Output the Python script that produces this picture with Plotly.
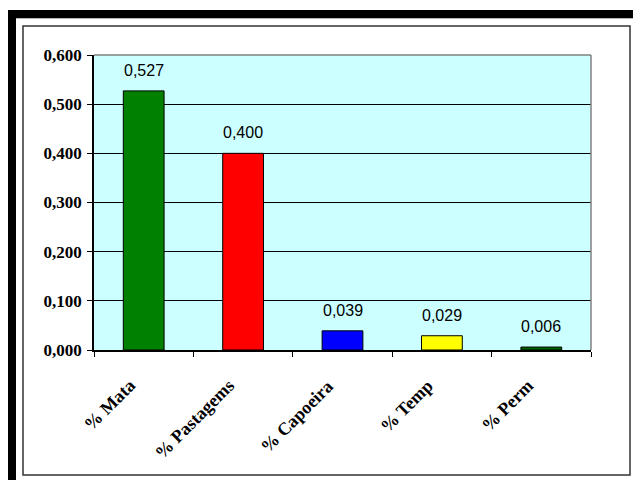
import plotly.graph_objects as go

categories = ["% Mata", "% Pastagems", "% Capoeira", "% Temp", "% Perm"]
values = [0.527, 0.400, 0.039, 0.029, 0.006]
bar_colors = ["#008000", "#FF0000", "#0000FF", "#FFFF00", "#006400"]
y_ticks = [0.0, 0.1, 0.2, 0.3, 0.4, 0.5, 0.6]
y_tick_labels = [f"{v:.3f}".replace(".", ",") for v in y_ticks]
value_labels = [f"{v:.3f}".replace(".", ",") for v in values]

W, H = 633, 480
L, R, T, B = 94, 591, 55, 350

fig = go.Figure()
fig.add_trace(go.Bar(
    x=categories, y=values,
    marker=dict(color=bar_colors, line=dict(color="black", width=1)),
    width=0.41, showlegend=False, hoverinfo="skip",
))

for c, v, t in zip(categories, values, value_labels):
    fig.add_annotation(x=c, y=v, text=t, showarrow=False, yanchor="bottom",
                       yshift=10, font=dict(family="Liberation Sans, Arial", size=16, color="black"))

# rotated category labels
for c in categories:
    fig.add_annotation(x=c, y=0, text=c, showarrow=False, textangle=-45,
                       xanchor="right", yanchor="top", xshift=-2, yshift=-23,
                       font=dict(family="Liberation Serif, Times New Roman", size=18,
                                 color="black", weight="bold"))

def px(x):
    return (x - L) / (R - L)

def py(y):
    return (B - y) / (B - T)

shapes = []
# outer thick black frame (top and left, clipped at right/bottom)
shapes.append(dict(type="line", xref="paper", yref="paper", x0=px(8), x1=px(700), y0=py(14), y1=py(14),
                   line=dict(color="black", width=8)))
shapes.append(dict(type="line", xref="paper", yref="paper", x0=px(12), x1=px(12), y0=py(10), y1=py(560),
                   line=dict(color="black", width=8)))
shapes.append(dict(type="line", xref="paper", yref="paper", x0=px(16), x1=px(700), y0=py(18.5), y1=py(18.5),
                   line=dict(color="#BBBBBB", width=1)))
# inner chart box
shapes.append(dict(type="rect", xref="paper", yref="paper", x0=px(23), x1=px(630), y0=py(26), y1=py(475),
                   line=dict(color="#333333", width=1.5)))
# plot area top/right border (gray)
shapes.append(dict(type="line", xref="paper", yref="paper", x0=0, x1=1, y0=1, y1=1,
                   line=dict(color="#808080", width=1.5)))
shapes.append(dict(type="line", xref="paper", yref="paper", x0=1, x1=1, y0=0, y1=1,
                   line=dict(color="#808080", width=1.5)))

fig.update_layout(
    width=W, height=H,
    margin=dict(l=L, r=W - R, t=T, b=H - B, pad=0),
    paper_bgcolor="white", plot_bgcolor="#CCFFFF",
    shapes=shapes,
    xaxis=dict(
        type="category", range=[-0.5, len(categories) - 0.5], autorange=False,
        tickson="boundaries", ticks="outside", ticklen=5,
        tickcolor="black", showline=True, linecolor="black", linewidth=1.5, showgrid=False,
        showticklabels=False,
    ),
    yaxis=dict(
        range=[0, 0.6], autorange=False, tickvals=y_ticks, ticktext=y_tick_labels, ticks="outside", ticklen=5,
        tickcolor="black", showline=True, linecolor="black", linewidth=1.5,
        showgrid=True, gridcolor="black", gridwidth=1, zeroline=False,
        tickfont=dict(family="Liberation Serif, Times New Roman", size=17, color="black", weight="bold"),
        ticklabelstandoff=2,
    ),
)

fig.write_html("out.html")
